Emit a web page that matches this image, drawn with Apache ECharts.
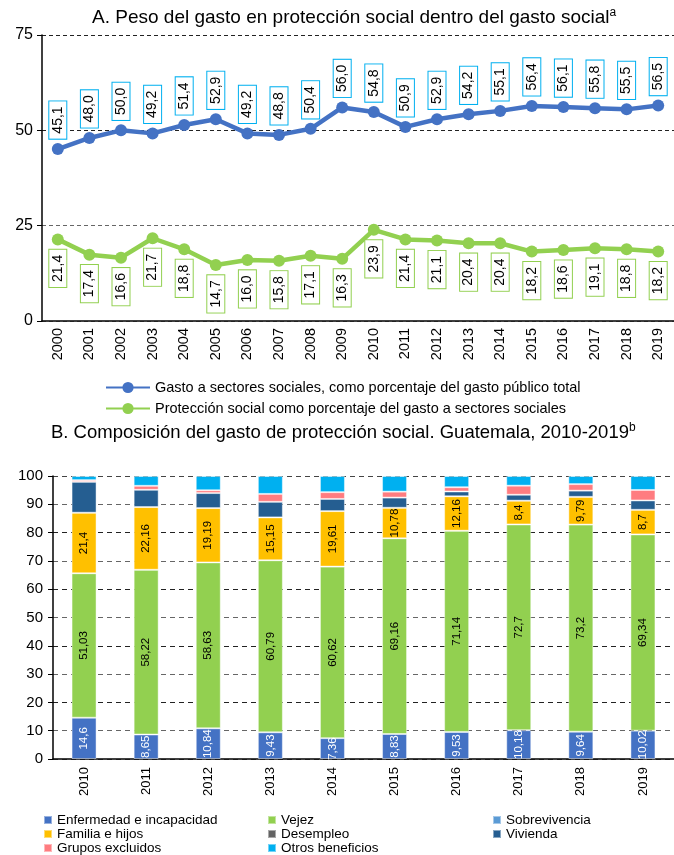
<!DOCTYPE html>
<html>
<head>
<meta charset="utf-8">
<script src="https://cdn.jsdelivr.net/npm/echarts@6/dist/echarts.min.js"></script>
<style>
  html, body { margin: 0; padding: 0; background: #fff; }
  #chart { width: 674px; height: 855px; }
</style>
</head>
<body>
<div id="chart"></div>
<script>
// Panel A: años y porcentajes
const yearsA = ['2000','2001','2002','2003','2004','2005','2006','2007','2008','2009',
                '2010','2011','2012','2013','2014','2015','2016','2017','2018','2019'];
const gastoSectores = [45.1, 48.0, 50.0, 49.2, 51.4, 52.9, 49.2, 48.8, 50.4, 56.0,
                       54.8, 50.9, 52.9, 54.2, 55.1, 56.4, 56.1, 55.8, 55.5, 56.5];
const proteccionSocial = [21.4, 17.4, 16.6, 21.7, 18.8, 14.7, 16.0, 15.8, 17.1, 16.3,
                          23.9, 21.4, 21.1, 20.4, 20.4, 18.2, 18.6, 19.1, 18.8, 18.2];
const yTicksA = [0, 25, 50, 75];

// Panel B: composición (estimada de la imagen donde no hay etiqueta)
const yearsB = ['2010','2011','2012','2013','2014','2015','2016','2017','2018','2019'];
const enfermedad = [14.6, 8.65, 10.84, 9.43, 7.36, 8.83, 9.53, 10.18, 9.64, 10.02];
const vejez = [51.03, 58.22, 58.63, 60.79, 60.62, 69.16, 71.14, 72.7, 73.2, 69.34];
const sobrevivencia = [0, 0, 0, 0, 0, 0, 0, 0, 0, 0];
const familia = [21.4, 22.16, 19.19, 15.15, 19.61, 10.78, 12.16, 8.4, 9.79, 8.7];
const desempleo = [0, 0, 0, 0, 0, 0, 0, 0, 0, 0];
const vivienda = [10.9, 6.1, 5.3, 5.5, 4.3, 3.6, 1.7, 2.1, 2.2, 3.3];
const gruposExcluidos = [0.6, 1.4, 1.0, 2.8, 2.4, 2.1, 1.5, 3.2, 2.3, 3.7];
const otrosBeneficios = [1.47, 3.47, 5.04, 6.33, 5.71, 5.53, 3.97, 3.42, 2.87, 4.94];

const chart = echarts.init(document.getElementById('chart'));
const font = '"Liberation Sans", Arial, sans-serif';
const coma = v => String(v).replace('.', ',');

function lineLabel(color, dx) {
  return {
    show: true,
    position: 'inside',
    rotate: 90,
    align: 'center',
    verticalAlign: 'middle',
    offset: [dx, 0],
    fontFamily: font,
    fontSize: 14,
    lineHeight: 15,
    color: '#000',
    backgroundColor: '#fff',
    borderColor: color,
    borderWidth: 1,
    padding: [1, 5],
    formatter: p => p.value.toFixed(1).replace('.', ',')
  };
}

function barSerie(name, data, color, labelColor) {
  return {
    name: name,
    type: 'bar',
    stack: 'total',
    xAxisIndex: 1,
    yAxisIndex: 1,
    barWidth: 25,
    data: data,
    itemStyle: { color: color, borderColor: 'rgba(255,255,255,0.45)', borderWidth: 1 },
    label: labelColor ? {
      show: true,
      position: 'inside',
      rotate: 90,
      fontFamily: font,
      fontSize: 11.5,
      color: labelColor,
      formatter: p => coma(p.value)
    } : { show: false }
  };
}

const legendText = { fontFamily: font, fontSize: 13.5, color: '#000', lineHeight: 13 };

function legendColumn(left, names) {
  return {
    orient: 'vertical', left: left, top: 813, height: 80, padding: 0,
    icon: 'rect', itemWidth: 8, itemHeight: 8, itemGap: 0,
    textStyle: legendText,
    data: names
  };
}

const option = {
  backgroundColor: '#fff',
  animation: false,
  textStyle: { fontFamily: font },
  title: [
    {
      text: 'A. Peso del gasto en protección social dentro del gasto social{s|a}',
      left: 87, top: 2,
      textStyle: { fontFamily: font, fontSize: 19, fontWeight: 'normal', color: '#000',
        rich: { s: { fontSize: 12, verticalAlign: 'top', padding: [0, 0, 10, 0], fontFamily: font } } }
    },
    {
      text: 'B. Composición del gasto de protección social. Guatemala, 2010-2019{s|b}',
      left: 46, top: 417,
      textStyle: { fontFamily: font, fontSize: 18.5, fontWeight: 'normal', color: '#000',
        rich: { s: { fontSize: 12, verticalAlign: 'top', padding: [0, 0, 10, 0], fontFamily: font } } }
    }
  ],
  legend: [
    {
      orient: 'vertical', left: 100, top: 375, itemWidth: 44, itemHeight: 14, itemGap: 6, itemSymbolSize: 12,
      textStyle: { fontFamily: font, fontSize: 14.5, color: '#000' },
      data: ['Gasto a sectores sociales, como porcentaje del gasto público total',
             'Protección social como porcentaje del gasto a sectores sociales']
    },
    legendColumn(43, ['Enfermedad e incapacidad', 'Familia e hijos', 'Grupos excluidos']),
    legendColumn(267, ['Vejez', 'Desempleo', 'Otros beneficios']),
    legendColumn(492, ['Sobrevivencia', 'Vivienda'])
  ],
  grid: [
    { left: 42, top: 35, width: 636, height: 286 },
    { left: 53, top: 476, width: 630, height: 283 }
  ],
  xAxis: [
    {
      type: 'category', gridIndex: 0, data: yearsA, boundaryGap: true,
      axisLine: { lineStyle: { color: '#000', width: 1.5 } },
      axisTick: { length: 5, lineStyle: { color: '#000' } },
      axisLabel: { rotate: 90, fontFamily: font, fontSize: 14.5, color: '#000', margin: 7 }
    },
    {
      type: 'category', gridIndex: 1, data: yearsB, boundaryGap: true,
      axisLine: { lineStyle: { color: '#000', width: 1.5 } },
      axisTick: { length: 5, lineStyle: { color: '#000' } },
      axisLabel: { rotate: 90, fontFamily: font, fontSize: 13, color: '#000', margin: 8 }
    }
  ],
  yAxis: [
    {
      type: 'value', gridIndex: 0, min: yTicksA[0], max: yTicksA[yTicksA.length - 1], interval: 25,
      axisLine: { show: true, lineStyle: { color: '#000', width: 1.5 } },
      axisTick: { show: true, length: 5, lineStyle: { color: '#000' } },
      axisLabel: { fontFamily: font, fontSize: 16, color: '#000', margin: 9 },
      splitLine: { lineStyle: { type: [4, 3], color: ['#888', '#666', '#222', '#222'] } }
    },
    {
      type: 'value', gridIndex: 1, min: 0, max: 100, interval: 10,
      axisLine: { show: true, lineStyle: { color: '#000', width: 1.5 } },
      axisTick: { show: true, length: 5, lineStyle: { color: '#000' } },
      axisLabel: { fontFamily: font, fontSize: 15, color: '#000', margin: 10 },
      splitLine: { lineStyle: { type: [5, 4], color: ['#666', '#666', '#222', '#666', '#222', '#666', '#222', '#666', '#222', '#666', '#444'], width: 1.2 } }
    }
  ],
  series: [
    {
      name: 'Gasto a sectores sociales, como porcentaje del gasto público total',
      type: 'line', xAxisIndex: 0, yAxisIndex: 0, data: gastoSectores,
      symbol: 'circle', symbolSize: 12,
      lineStyle: { color: '#4472C4', width: 4.5 },
      itemStyle: { color: '#4472C4' },
      label: lineLabel('#00B0F0', 29),
      z: 3
    },
    {
      name: 'Protección social como porcentaje del gasto a sectores sociales',
      type: 'line', xAxisIndex: 0, yAxisIndex: 0, data: proteccionSocial,
      symbol: 'circle', symbolSize: 12,
      lineStyle: { color: '#92D050', width: 4.5 },
      itemStyle: { color: '#92D050' },
      label: lineLabel('#92D050', -29),
      z: 3
    },
    barSerie('Enfermedad e incapacidad', enfermedad, '#4472C4', '#fff'),
    barSerie('Vejez', vejez, '#92D050', '#000'),
    barSerie('Sobrevivencia', sobrevivencia, '#5B9BD5', null),
    barSerie('Familia e hijos', familia, '#FFC000', '#000'),
    barSerie('Desempleo', desempleo, '#636363', null),
    barSerie('Vivienda', vivienda, '#255E91', null),
    barSerie('Grupos excluidos', gruposExcluidos, '#FF7C80', null),
    barSerie('Otros beneficios', otrosBeneficios, '#00B0F0', null)
  ]
};

chart.setOption(option);
</script>
</body>
</html>
